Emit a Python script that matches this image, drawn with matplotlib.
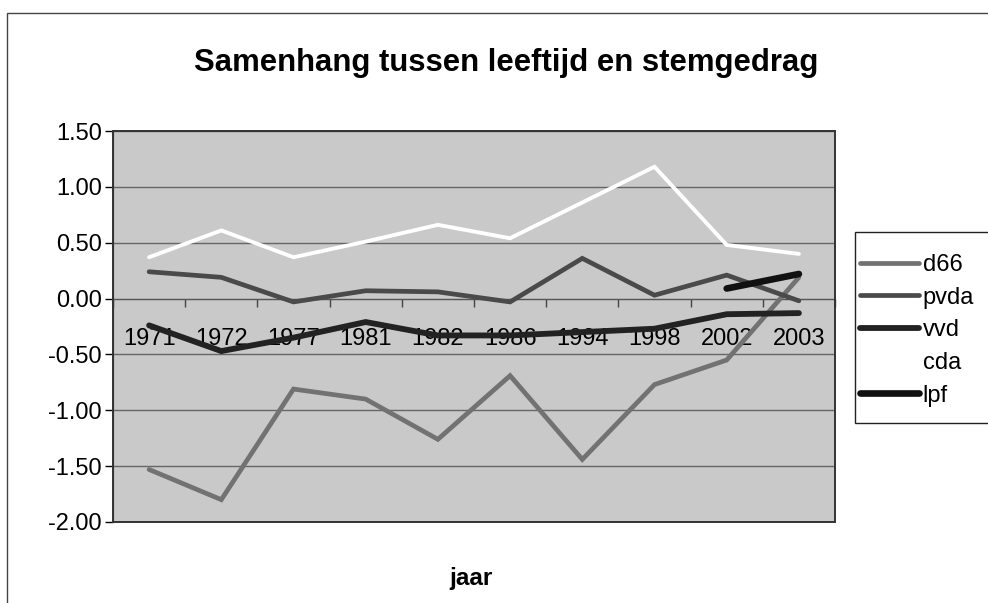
import matplotlib
matplotlib.use("Agg")
import matplotlib.pyplot as plt
import numpy as np
from matplotlib.patches import Rectangle

plt.rcParams.update({
    "font.family": ["Liberation Sans", "DejaVu Sans"],
    "font.size": 17,
})

years = ["1971", "1972", "1977", "1981", "1982", "1986", "1994", "1998", "2002", "2003"]
d66 = [-1.53, -1.80, -0.81, -0.90, -1.26, -0.69, -1.44, -0.77, -0.55, 0.19]
pvda = [0.24, 0.19, -0.03, 0.07, 0.06, -0.03, 0.36, 0.03, 0.21, -0.02]
vvd = [-0.24, -0.47, -0.35, -0.21, -0.33, -0.33, -0.30, -0.27, -0.14, -0.13]
cda = [0.37, 0.61, 0.37, 0.51, 0.66, 0.54, 0.86, 1.18, 0.48, 0.40]
lpf = [np.nan] * 8 + [0.09, 0.22]
y_ticks = [-2.0, -1.5, -1.0, -0.5, 0.0, 0.5, 1.0, 1.5]

W, H = 988, 603
fig = plt.figure(figsize=(W / 100, H / 100), dpi=100)
ax = fig.add_axes([113 / W, 1 - 522 / H, (835 - 113) / W, (522 - 131) / H])
ax.set_facecolor("#c9c9c9")

x = np.arange(len(years))
series = [
    ("d66", d66, "#727272", 3.4),
    ("pvda", pvda, "#4a4a4a", 3.4),
    ("vvd", vvd, "#222222", 4.2),
    ("cda", cda, "white", 2.8),
    ("lpf", lpf, "#111111", 4.8),
]
for name, vals, color, lw in series:
    ax.plot(x, vals, color=color, lw=lw, label=name, solid_capstyle="round",
            solid_joinstyle="miter", zorder=3)

ax.set_xlim(-0.5, len(years) - 0.5)
ax.set_ylim(-2.0, 1.5)
ax.set_yticks(y_ticks)
ax.set_yticklabels([f"{v:.2f}" for v in y_ticks])
ax.yaxis.grid(True, color="#666666", lw=1)
ax.set_axisbelow(True)
ax.tick_params(axis="y", direction="out", length=6, width=1, pad=2)

# category axis crosses at zero, labels between the tick marks
ax.spines["bottom"].set_position(("data", 0))
ax.spines["bottom"].set_color("#555555")
ax.set_xticks(np.arange(-0.5, len(years), 1.0))
ax.set_xticklabels([])
ax.set_xticks(x, minor=True)
ax.set_xticklabels(years, minor=True)
ax.tick_params(axis="x", which="major", direction="out", length=6, width=1, color="#444444")
ax.tick_params(axis="x", which="minor", length=0, pad=21)

for s in ("top", "right"):
    ax.spines[s].set_visible(False)
ax.add_patch(Rectangle((0, 0), 1, 1, transform=ax.transAxes, fill=False,
                       edgecolor="#333333", lw=1.4, clip_on=False, zorder=4))

fig.text(506 / W, 1 - 63 / H, "Samenhang tussen leeftijd en stemgedrag",
         ha="center", va="center", fontsize=22.4, fontweight="bold")
fig.text(471 / W, 1 - 578 / H, "jaar", ha="center", va="center",
         fontsize=17.5, fontweight="bold")

# outer chart border (runs off the right and bottom edge)
fig.patches.append(Rectangle((7 / W, -0.1), 1.2, 1 - 13 / H + 0.1,
                             transform=fig.transFigure, fill=False,
                             edgecolor="#444444", lw=1))

# legend box
fig.patches.append(Rectangle((855 / W, 1 - 423 / H), 0.3, (423 - 232) / H,
                             transform=fig.transFigure, fill=True, facecolor="white",
                             edgecolor="#222222", lw=1, zorder=5))
fig.legend(loc="upper left", bbox_to_anchor=(860 / W, 1 - 254 / H),
           frameon=False, borderaxespad=0, borderpad=0, handlelength=2.5,
           handletextpad=0.15, labelspacing=0.45, fontsize=17)

fig.savefig("out.png", dpi=100)
